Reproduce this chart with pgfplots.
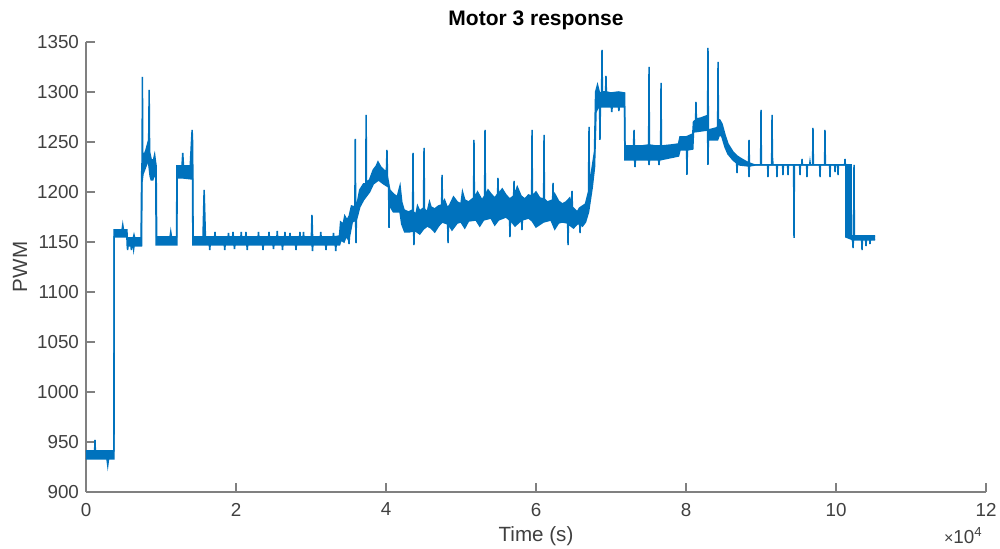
\documentclass[border=0pt]{standalone}
\usepackage{fontspec}
\setmainfont{Liberation Sans}
\usepackage{pgfplots}
\pgfplotsset{compat=1.18}
\usepgfplotslibrary{fillbetween}
\definecolor{mblue}{HTML}{0072BD}
\definecolor{axgray}{HTML}{808080}
\definecolor{txt}{HTML}{404040}
\begin{document}
\begin{tikzpicture}
\begin{axis}[
 name=ax, scale only axis, width=450pt, height=225pt,
 xmin=0, xmax=12, ymin=900, ymax=1350,
 axis x line=bottom, axis y line=left,
 axis line style={-, draw=axgray, line width=0.8pt},
 tick style={draw=axgray, line width=0.8pt},
 tick align=inside, major tick length=4.5pt,
 xtick={0,2,...,12}, ytick={900,950,...,1350},
 /pgf/number format/assume math mode=true,
 /pgf/number format/1000 sep={},
 ticklabel style={font=\fontsize{9.4}{11}\selectfont, text=txt},
 xticklabel style={yshift=-2pt},
 xlabel={Time (s)}, ylabel={PWM},
 every axis x label/.style={at={(axis description cs:0.5,-0.0978)}, anchor=center, font=\fontsize{10.3}{12}\selectfont, text=txt},
 every axis y label/.style={at={(axis description cs:-0.0733,0.5)}, rotate=90, anchor=center, font=\fontsize{10.3}{12}\selectfont, text=txt},
 title={Motor 3 response},
 every axis title/.style={at={(axis description cs:0.5,1)}, yshift=11pt, anchor=center, font=\bfseries\fontsize{10.5}{12}\selectfont, text=black},
]
\addplot[mblue, line width=0.75pt, name path=U] coordinates {
(0,941)(0.10,941)(0.115,941)(0.12,952)(0.125,941)(0.372,941)(0.375,1162)(0.48,1162)(0.49,1167)(0.50,1162)(0.545,1162)(0.55,1154)(0.63,1154)(0.64,1157)(0.65,1154)(0.735,1154)(0.742,1218)(0.748,1232)(0.752,1315)(0.757,1234)(0.78,1238)(0.80,1242)(0.825,1249)(0.835,1245)(0.842,1302)(0.848,1240)(0.87,1232)(0.90,1232)(0.915,1237)(0.925,1231)(0.935,1226)(0.942,1155)(1.12,1155)(1.13,1160)(1.14,1155)(1.207,1155)(1.213,1226)(1.28,1226)(1.29,1239)(1.30,1226)(1.39,1226)(1.405,1248)(1.415,1262)(1.422,1248)(1.428,1155)(1.56,1155)(1.575,1202)(1.585,1175)(1.592,1155)
(1.715,1155)(1.72,1160)(1.725,1155)(1.895,1155)(1.9,1159)(1.905,1155)(1.955,1155)(1.96,1160)(1.965,1155)(2.065,1155)(2.07,1160)(2.075,1155)(2.128,1155)(2.133,1160)(2.138,1155)(2.295,1155)(2.3,1160)(2.305,1155)(2.435,1155)(2.44,1160)(2.445,1155)(2.545,1155)(2.55,1161)(2.555,1155)(2.648,1155)(2.653,1160)(2.658,1155)(2.715,1155)(2.72,1159)(2.725,1155)(2.848,1155)(2.853,1160)(2.858,1155)(2.895,1155)(2.9,1160)(2.905,1155)(3.005,1155)(3.013,1177)(3.021,1155)(3.125,1155)(3.13,1160)(3.135,1155)(3.295,1155)(3.3,1159)(3.305,1155)(3.38,1156)
(3.395,1170)(3.43,1168)(3.45,1176)(3.48,1172)(3.51,1176)(3.54,1186)(3.585,1185)(3.59,1253)(3.595,1186)(3.62,1190)(3.65,1202)(3.70,1208)(3.73,1208)(3.735,1277)(3.74,1210)(3.78,1212)(3.83,1222)(3.87,1226)(3.893,1230)(3.93,1225)(3.97,1222)(4.005,1220)(4.013,1242)(4.02,1215)(4.05,1202)(4.10,1198)(4.15,1195)(4.187,1206)(4.21,1190)(4.24,1182)(4.30,1180)(4.355,1182)(4.36,1239)(4.365,1180)
(4.40,1178)(4.42,1186)(4.45,1181)(4.50,1184)(4.507,1244)(4.513,1183)(4.55,1180)(4.58,1190)(4.60,1185)(4.65,1183)(4.70,1186)(4.742,1187)(4.747,1217)(4.753,1188)(4.78,1192)(4.82,1184)(4.85,1187)(4.90,1195)(4.95,1190)(5.00,1188)(5.02,1200)(5.05,1192)(5.10,1190)(5.168,1194)(5.173,1252)(5.178,1194)(5.22,1200)(5.25,1196)(5.28,1192)(5.315,1196)(5.32,1262)(5.325,1196)(5.36,1202)(5.40,1198)(5.45,1194)(5.488,1198)(5.493,1214)(5.498,1198)(5.55,1203)(5.60,1197)(5.65,1193)(5.702,1196)(5.707,1211)(5.712,1196)(5.75,1205)(5.80,1196)(5.85,1193)(5.90,1197)(5.942,1196)(5.947,1262)(5.952,1196)(6.00,1200)(6.05,1194)(6.102,1193)(6.107,1257)(6.112,1193)(6.15,1190)(6.222,1192)(6.227,1209)(6.232,1192)(6.25,1198)(6.30,1191)(6.35,1188)(6.40,1190)(6.45,1194)(6.475,1186)(6.48,1201)(6.485,1185)(6.55,1180)(6.58,1184)(6.62,1186)(6.66,1188)
(6.70,1200)(6.707,1265)(6.712,1205)(6.75,1225)(6.78,1240)(6.795,1300)(6.82,1307)(6.85,1298)(6.875,1300)(6.88,1342)(6.885,1300)(6.928,1300)(6.933,1316)(6.938,1300)(7.00,1299)(7.10,1300)(7.18,1299)(7.187,1246)(7.30,1246)(7.307,1262)(7.312,1246)(7.40,1246)(7.502,1247)(7.507,1325)(7.512,1247)(7.60,1246)(7.662,1246)(7.667,1309)(7.672,1246)(7.80,1247)(7.90,1248)(7.92,1255)(8.00,1255)(8.09,1258)(8.10,1270)(8.128,1272)(8.133,1290)(8.138,1273)(8.20,1274)(8.27,1276)(8.288,1276)(8.293,1344)(8.298,1262)(8.35,1263)(8.40,1264)(8.422,1265)(8.427,1330)(8.432,1272)(8.45,1272)(8.48,1268)(8.52,1257)(8.56,1248)(8.627,1240)(8.68,1236)(8.72,1234)(8.813,1230)(8.835,1229)(8.84,1252)(8.845,1229)(8.88,1228)(8.92,1227)(8.995,1227)(9.0,1282)(9.005,1227)(9.142,1227)(9.147,1277)(9.152,1235)(9.16,1227)(9.542,1227)(9.547,1233)(9.552,1227)(9.648,1227)(9.653,1230)(9.658,1227)(9.688,1227)(9.693,1264)(9.698,1227)(9.848,1227)(9.853,1262)(9.858,1227)(10.115,1227)(10.12,1233)(10.125,1227)(10.20,1227)(10.205,1156)(10.235,1156)(10.24,1227)(10.245,1156)(10.52,1156)
};
\addplot[mblue, line width=0.75pt, name path=L] coordinates {
(0,933)(0.28,933)(0.29,927)(0.30,933)(0.373,933)(0.376,1155)(0.545,1155)(0.55,1146)(0.555,1142)(0.56,1146)(0.60,1146)(0.605,1142)(0.61,1146)(0.63,1146)(0.635,1143)(0.64,1146)(0.74,1146)(0.746,1210)(0.76,1218)(0.78,1222)(0.80,1226)(0.825,1232)(0.84,1226)(0.855,1216)(0.87,1212)(0.89,1212)(0.905,1216)(0.93,1215)(0.936,1147)(1.211,1147)(1.216,1214)(1.30,1214)(1.42,1213)(1.425,1147)
(1.645,1147)(1.65,1142)(1.655,1147)(1.845,1147)(1.85,1142)(1.855,1147)(1.975,1147)(1.98,1143)(1.985,1147)(2.145,1147)(2.15,1142)(2.155,1147)(2.355,1147)(2.36,1142)(2.365,1147)(2.495,1147)(2.5,1143)(2.505,1147)(2.615,1147)(2.62,1142)(2.625,1147)(2.795,1147)(2.8,1142)(2.805,1147)(3.015,1147)(3.02,1141)(3.025,1147)(3.195,1147)(3.2,1142)(3.205,1147)(3.325,1147)(3.33,1141)(3.335,1147)
(3.38,1147)(3.40,1152)(3.44,1150)(3.47,1156)(3.502,1152)(3.507,1148)(3.512,1155)(3.55,1170)(3.595,1172)(3.60,1149)(3.605,1172)(3.65,1185)(3.70,1192)(3.78,1200)(3.83,1208)(3.90,1212)(3.97,1208)(4.035,1205)(4.04,1164)(4.045,1200)(4.06,1185)(4.10,1180)(4.187,1180)(4.21,1168)(4.25,1160)(4.30,1160)(4.368,1161)(4.373,1147)(4.378,1162)
(4.45,1158)(4.50,1163)(4.55,1166)(4.60,1164)(4.65,1160)(4.70,1166)(4.75,1170)(4.822,1168)(4.827,1149)(4.832,1168)(4.88,1162)(4.95,1169)(5.0,1170)(5.05,1164)(5.10,1171)(5.2,1172)(5.25,1166)(5.30,1172)(5.4,1174)(5.45,1167)(5.50,1172)(5.6,1175)(5.648,1172)(5.653,1155)(5.658,1172)(5.72,1166)(5.808,1172)(5.813,1162)(5.818,1172)(5.9,1174)(5.95,1171)(6.0,1165)(6.10,1170)(6.2,1172)(6.25,1163)(6.30,1169)(6.35,1170)(6.422,1169)(6.427,1147)(6.432,1168)(6.5,1164)(6.55,1168)(6.582,1168)(6.587,1159)(6.592,1168)(6.62,1166)(6.66,1170)
(6.70,1180)(6.75,1205)(6.78,1225)(6.80,1280)(6.83,1285)(6.848,1285)(6.853,1252)(6.858,1285)(6.94,1285)(7.005,1285)(7.01,1280)(7.015,1285)(7.10,1285)(7.105,1281)(7.11,1285)(7.18,1285)(7.185,1232)(7.315,1232)(7.32,1225)(7.325,1232)(7.502,1232)(7.507,1227)(7.512,1232)(7.635,1232)(7.64,1227)(7.645,1232)(7.90,1236)(7.92,1242)(8.008,1242)(8.013,1217)(8.018,1242)(8.09,1243)(8.10,1260)(8.288,1262)(8.293,1227)(8.298,1252)(8.42,1252)(8.45,1258)(8.48,1255)(8.52,1245)(8.56,1238)(8.627,1232)(8.675,1229)(8.68,1219)(8.685,1228)(8.72,1227)(8.835,1226)(8.84,1215)(8.845,1226)(8.92,1227)
(9.088,1227)(9.093,1215)(9.098,1227)(9.208,1227)(9.213,1215)(9.218,1227)(9.288,1227)(9.293,1217)(9.298,1227)(9.355,1227)(9.36,1217)(9.365,1227)(9.435,1227)(9.44,1154)(9.445,1227)(9.515,1227)(9.52,1217)(9.525,1227)(9.608,1227)(9.613,1215)(9.618,1227)(9.782,1227)(9.787,1215)(9.792,1227)(9.915,1227)(9.92,1215)(9.925,1227)(9.982,1227)(9.987,1220)(9.992,1227)(10.022,1227)(10.027,1217)(10.032,1227)(10.13,1227)(10.133,1155)(10.20,1153)(10.222,1152)(10.227,1144)(10.232,1152)(10.342,1152)(10.347,1142)(10.352,1152)(10.395,1152)(10.40,1146)(10.405,1152)(10.448,1152)(10.453,1148)(10.458,1152)(10.52,1152)
};
\addplot[fill=mblue, draw=none] fill between[of=U and L];
\end{axis}
\node[anchor=base east, font=\fontsize{9.4}{11}\selectfont, text=txt, inner sep=0pt] at ([shift={(-1.5pt,-26pt)}]ax.south east) {{\fontsize{8}{9}\selectfont ×}10\textsuperscript{4}};
\pgfresetboundingbox
\path[use as bounding box] ([shift={(-43pt,-28.5pt)}]ax.south west) rectangle ([shift={(7pt,21pt)}]ax.north east);
\end{tikzpicture}
\end{document}
